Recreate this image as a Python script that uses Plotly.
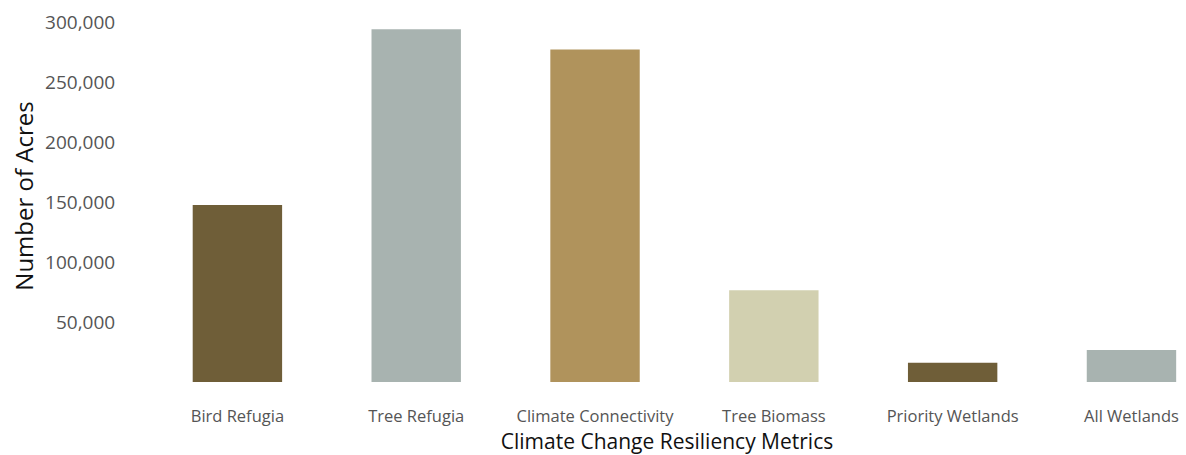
import plotly.graph_objects as go

categories = ["Bird Refugia", "Tree Refugia", "Climate Connectivity",
              "Tree Biomass", "Priority Wetlands", "All Wetlands"]
acres = [147500, 294000, 277000, 76500, 16000, 26700]
bar_colors = ["#6f5e38", "#a8b3b0", "#b0935c", "#d2d0b0", "#6f5e38", "#a8b3b0"]
y_ticks = [50000, 100000, 150000, 200000, 250000, 300000]
y_tick_labels = ["50,000", "100,000", "150,000", "200,000", "250,000", "300,000"]

fig = go.Figure(go.Bar(
    x=categories,
    y=acres,
    marker=dict(color=bar_colors, line=dict(width=0)),
    width=0.5,
))

font_family = "Open Sans, Lato, sans-serif"

fig.update_layout(
    width=1186, height=455,
    margin=dict(l=148, r=0, t=10, b=73),
    plot_bgcolor="white", paper_bgcolor="white",
    showlegend=False,
    font=dict(family=font_family, color="#555555"),
    xaxis=dict(
        range=[-0.5, 5.305],
        showgrid=False, showline=False, zeroline=False,
        ticks="outside", ticklen=19, tickcolor="rgba(0,0,0,0)",
        tickfont=dict(size=16.5, color="#555555"),
        title=dict(text="Climate Change Resiliency Metrics",
                   font=dict(size=21, color="#111111"), standoff=3),
    ),
    yaxis=dict(
        range=[0, 310000],
        tickvals=y_ticks, ticktext=y_tick_labels,
        showgrid=False, showline=False, zeroline=False,
        ticks="outside", ticklen=28, tickcolor="rgba(0,0,0,0)",
        tickfont=dict(size=19, color="#555555"),
        title=dict(text="Number of Acres",
                   font=dict(size=24, color="#111111"), standoff=4),
    ),
)

fig.write_html("out.html")
